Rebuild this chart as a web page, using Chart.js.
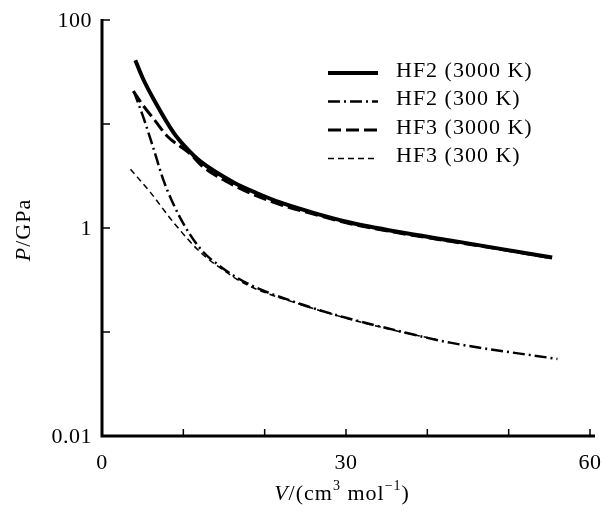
<!DOCTYPE html>
<html>
<head>
<meta charset="utf-8">
<script src="https://cdn.jsdelivr.net/npm/chart.js@4.4.1/dist/chart.umd.min.js"></script>
<style>
  html, body { margin: 0; padding: 0; background: #fff; }
</style>
</head>
<body>
<canvas id="chartPV" width="602" height="514"></canvas>
<script>
// Datos (V en cm3/mol, P en GPa)
const seriesLabels = ['HF2 (3000 K)', 'HF2 (300 K)', 'HF3 (3000 K)', 'HF3 (300 K)'];

const vHF2hot = [4.1, 5.0, 6.35, 8.8, 10.3, 12.1, 16.2, 19.0, 21.9, 26.0, 30.5, 36.7, 42.8, 49.0, 55.35];
const pHF2hot = [41.0, 27.7, 17.3, 8.26, 5.96, 4.37, 2.74, 2.17, 1.76, 1.40, 1.13, 0.91, 0.76, 0.63, 0.52];

const vHF2cold = [3.9, 5.1, 6.35, 7.6, 9.6, 12.1, 14.55, 17.8, 24.4, 30.0, 34.6, 42.8, 56.0];
const pHF2cold = [20.7, 11.5, 5.75, 2.82, 1.26, 0.631, 0.427, 0.295, 0.186, 0.137, 0.111, 0.079, 0.055];

const vHF3hot = [3.85, 5.1, 6.4, 8.0, 10.9, 12.1, 16.2, 21.9, 26.0, 30.5, 36.7, 42.8, 49.0, 55.35];
const pHF3hot = [20.7, 14.9, 11.1, 7.67, 5.12, 4.07, 2.57, 1.68, 1.36, 1.10, 0.89, 0.745, 0.625, 0.515];

const vHF3cold = [3.5, 5.95, 8.8, 12.1, 14.15, 17.8, 24.4, 30.0, 36.0, 41.0];
const pHF3cold = [3.67, 2.20, 1.13, 0.583, 0.434, 0.285, 0.184, 0.136, 0.1035, 0.085];

const xMajorTicks = [0, 30, 60];
const xMinorTicks = [10, 20, 40, 50];
const yMajorTicks = [0.01, 1, 100];
const yMinorTicks = [0.1, 10];

const serif = '"Liberation Serif", "Times New Roman", serif';

function toPoints(vs, ps) {
  return vs.map((v, i) => ({ x: v, y: ps[i] }));
}

// Ejes, marcas hacia dentro, etiquetas, títulos y leyenda
const axesPlugin = {
  id: 'axesPlugin',
  afterDraw(chart) {
    const { ctx, chartArea, scales: { x, y } } = chart;
    const left = x.getPixelForValue(0);
    const bottom = y.getPixelForValue(0.01);
    const top = y.getPixelForValue(100);

    ctx.save();
    ctx.strokeStyle = '#000';
    ctx.fillStyle = '#000';

    // líneas de ejes
    ctx.lineWidth = 3;
    ctx.lineJoin = 'miter';
    ctx.beginPath();
    ctx.moveTo(left, top - 1);
    ctx.lineTo(left, bottom);
    ctx.lineTo(chartArea.right + 5, bottom);
    ctx.stroke();

    // marcas
    ctx.lineWidth = 1.5;
    ctx.beginPath();
    xMajorTicks.concat(xMinorTicks).forEach(v => {
      if (v === 0) return;
      const px = x.getPixelForValue(v);
      ctx.moveTo(px, bottom);
      ctx.lineTo(px, bottom - 7);
    });
    yMajorTicks.concat(yMinorTicks).forEach(v => {
      if (v === 0.01) return;
      const py = y.getPixelForValue(v);
      ctx.moveTo(left, py);
      ctx.lineTo(left + 8, py);
    });
    ctx.stroke();

    // etiquetas de marcas
    ctx.font = '22px ' + serif;
    ctx.letterSpacing = '0.5px';
    ctx.textBaseline = 'middle';
    ctx.textAlign = 'right';
    yMajorTicks.forEach(v => {
      ctx.fillText(String(v), left - 10, y.getPixelForValue(v) + 1);
    });
    ctx.textAlign = 'center';
    xMajorTicks.forEach(v => {
      ctx.fillText(String(v), x.getPixelForValue(v), bottom + 27);
    });

    // título eje y: P/GPa (P en cursiva)
    ctx.letterSpacing = '1px';
    ctx.save();
    ctx.translate(24, 230);
    ctx.rotate(-Math.PI / 2);
    ctx.textAlign = 'left';
    const yParts = [['italic 22px ' + serif, 'P'], ['22px ' + serif, '/GPa']];
    let wy = 0;
    yParts.forEach(([f, t]) => { ctx.font = f; wy += ctx.measureText(t).width; });
    let cx = -wy / 2;
    yParts.forEach(([f, t]) => {
      ctx.font = f;
      ctx.fillText(t, cx, 0);
      cx += ctx.measureText(t).width;
    });
    ctx.restore();

    // título eje x: V/(cm3 mol-1)
    const xParts = [
      ['italic 22px ' + serif, 'V', 0],
      ['22px ' + serif, '/(cm', 0],
      ['14px ' + serif, '3', -8],
      ['22px ' + serif, ' mol', 0],
      ['14px ' + serif, '\u22121', -8],
      ['22px ' + serif, ')', 0]
    ];
    ctx.textAlign = 'left';
    let wx = 0;
    xParts.forEach(([f, t]) => { ctx.font = f; wx += ctx.measureText(t).width; });
    let tx = x.getPixelForValue(30) - 4 - wx / 2;
    xParts.forEach(([f, t, dy]) => {
      ctx.font = f;
      ctx.fillText(t, tx, 494 + dy);
      tx += ctx.measureText(t).width;
    });

    // leyenda
    ctx.font = '22px ' + serif;
    ctx.letterSpacing = '1px';
    chart.data.datasets.forEach((ds, i) => {
      const ly = 73 + i * 28.5;
      ctx.save();
      ctx.lineWidth = ds.borderWidth;
      ctx.setLineDash(ds.borderDash || []);
      ctx.beginPath();
      ctx.moveTo(328, ly);
      ctx.lineTo(378, ly);
      ctx.stroke();
      ctx.restore();
      ctx.textAlign = 'left';
      ctx.fillText(ds.label, 396, ly - 2);
    });

    ctx.restore();
  }
};

const ctx = document.getElementById('chartPV');

const chartPV = new Chart(ctx, {
  type: 'line',
  data: {
    datasets: [
      {
        label: seriesLabels[0],
        data: toPoints(vHF2hot, pHF2hot),
        borderColor: '#000',
        borderWidth: 4,
        borderDash: []
      },
      {
        label: seriesLabels[1],
        data: toPoints(vHF2cold, pHF2cold),
        borderColor: '#000',
        borderWidth: 2.5,
        borderDash: [12, 4, 2, 4]
      },
      {
        label: seriesLabels[2],
        data: toPoints(vHF3hot, pHF3hot),
        borderColor: '#000',
        borderWidth: 3,
        borderDash: [13, 5]
      },
      {
        label: seriesLabels[3],
        data: toPoints(vHF3cold, pHF3cold),
        borderColor: '#000',
        borderWidth: 1.5,
        borderDash: [6, 4]
      }
    ]
  },
  options: {
    responsive: false,
    animation: false,
    devicePixelRatio: 1,
    layout: { padding: { left: 102, right: 12, top: 20, bottom: 78 } },
    elements: {
      point: { radius: 0 },
      line: { cubicInterpolationMode: 'monotone', fill: false }
    },
    scales: {
      x: { type: 'linear', min: 0, max: 60, display: false },
      y: { type: 'logarithmic', min: 0.01, max: 100, display: false }
    },
    plugins: {
      legend: { display: false },
      tooltip: { enabled: false }
    }
  },
  plugins: [axesPlugin]
});
</script>
</body>
</html>
